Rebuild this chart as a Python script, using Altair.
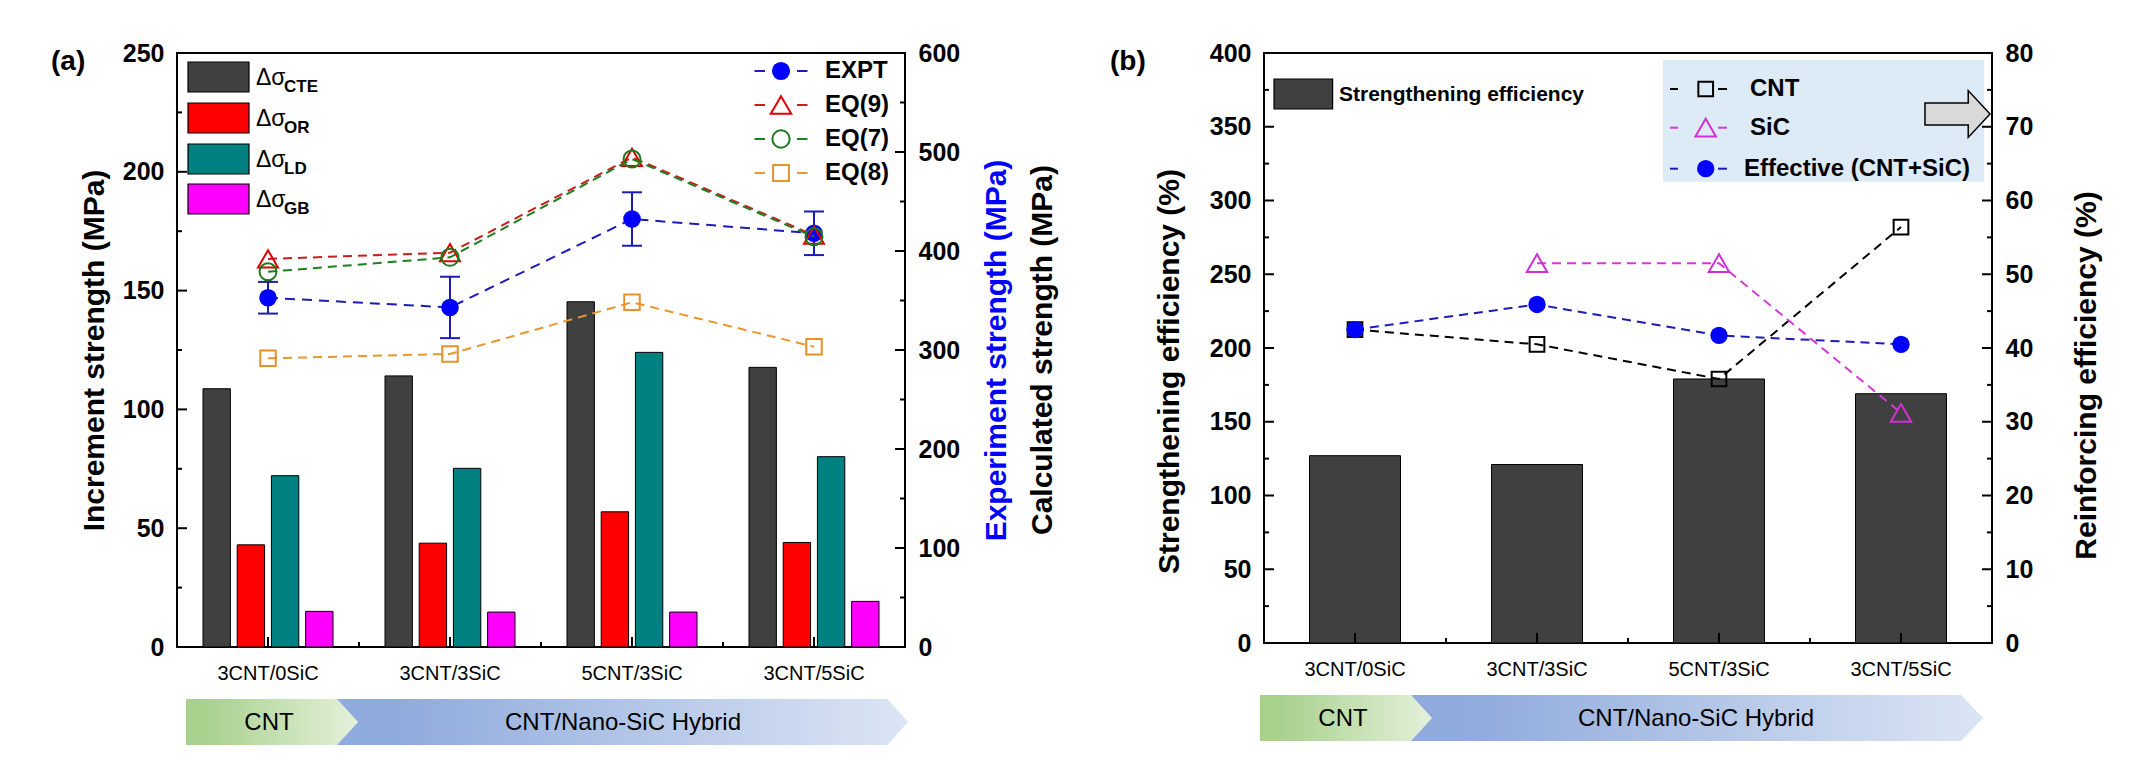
import altair as alt
import pandas as pd

# ---------------- data ----------------
cats = ["3CNT/0SiC", "3CNT/3SiC", "5CNT/3SiC", "3CNT/5SiC"]

# panel (a) bars: increment strength (MPa, left axis)
comps = ["CTE", "OR", "LD", "GB"]
comp_colors = ["#404040", "#FF0000", "#008080", "#FF00FF"]
d_cte = [108.7, 114.1, 145.3, 117.7]
d_or = [43.0, 43.7, 56.9, 44.0]
d_ld = [72.1, 75.2, 124.0, 80.1]
d_gb = [15.0, 14.7, 14.7, 19.2]

# panel (a) lines: strengths (MPa, right axis)
expt = [352.8, 343.0, 432.3, 417.9]
expt_err = [16, 31, 27, 22]
eq9 = [392.0, 398.3, 494.6, 416.0]
eq7 = [379.0, 393.6, 492.9, 414.4]
eq8 = [291.6, 296.0, 348.2, 303.3]

# panel (b)
strength_eff = [127, 121, 179, 169]          # left axis (%)
re_cnt = [42.5, 40.5, 35.8, 56.4]            # right axis (%)
re_sic_cats = ["3CNT/3SiC", "5CNT/3SiC", "3CNT/5SiC"]
re_sic = [51.5, 51.5, 31.2]
re_eff = [42.5, 45.9, 41.7, 40.5]

ticks_a_left = [0, 50, 100, 150, 200, 250]
minor_a_left = [25, 75, 125, 175, 225]
ticks_a_right = [0, 100, 200, 300, 400, 500, 600]
minor_a_right = [50, 150, 250, 350, 450, 550]
ticks_b_left = [0, 50, 100, 150, 200, 250, 300, 350, 400]
minor_b_left = [25, 75, 125, 175, 225, 275, 325, 375]
ticks_b_right = [0, 10, 20, 30, 40, 50, 60, 70, 80]
minor_b_right = [5, 15, 25, 35, 45, 55, 65, 75]

# ---------------- helpers ----------------
FONT = "Liberation Sans"
W = 728
HA = 594
HB = 590
ONE = pd.DataFrame({"k": [0]})

x_axis = alt.Axis(labelAngle=0, ticks=False, tickSize=0, domain=False, grid=False,
                  labelFont=FONT, labelFontSize=20, labelColor="black", labelPadding=16,
                  title=None)


def xenc(band_pos=None):
    kw = {}
    if band_pos is not None:
        kw["bandPosition"] = band_pos
    return alt.X("cat:N", sort=cats, scale=alt.Scale(domain=cats, paddingInner=0, paddingOuter=0),
                 axis=x_axis, title=None, **kw)


def yaxis(orient, values, title, tx, ty, color="black"):
    return alt.Axis(orient=orient, values=values, ticks=False, tickSize=0, domain=False, grid=False,
                    labelFont=FONT, labelFontSize=25, labelFontWeight="bold", labelColor="black",
                    labelPadding=13, title=title, titleFont=FONT, titleFontSize=30,
                    titleFontWeight="bold", titleColor=color, titleAngle=270, titleX=tx, titleY=ty,
                    titleAlign="center", titleBaseline="middle")


def make_y(domain, axis):
    def f(field, **kw):
        return alt.Y(field, type="quantitative", scale=alt.Scale(domain=domain, nice=False),
                     axis=axis, title=axis.title, **kw)
    return f


def vtext(txt, x, y, size, weight="normal", align="left", color="black", angle=None):
    kw = dict(text=txt, font=FONT, fontSize=size, fontWeight=weight, align=align,
              baseline="middle", color=color)
    if angle is not None:
        kw["angle"] = angle
    return alt.Chart(ONE).mark_text(**kw).encode(x=alt.value(x), y=alt.value(y))


def vrect(x1, x2, y1, y2, fill, stroke=None, sw=1.0):
    kw = dict(fill=fill)
    if stroke:
        kw.update(stroke=stroke, strokeWidth=sw)
    else:
        kw.update(strokeWidth=0)
    return alt.Chart(ONE).mark_rect(**kw).encode(x=alt.value(x1), x2=alt.value(x2),
                                                 y=alt.value(y1), y2=alt.value(y2))


def vrule(x1, x2, y, color, sw=2):
    return alt.Chart(ONE).mark_rule(color=color, strokeWidth=sw).encode(
        x=alt.value(x1), x2=alt.value(x2), y=alt.value(y), y2=alt.value(y))


def vpoint(x, y, shape, size, color, filled, sw=2.0):
    if filled:
        m = alt.Chart(ONE).mark_point(shape=shape, size=size, filled=True, fill=color,
                                      strokeWidth=0, opacity=1)
    else:
        m = alt.Chart(ONE).mark_point(shape=shape, size=size, filled=False, stroke=color,
                                      strokeWidth=sw, opacity=1)
    return m.encode(x=alt.value(x), y=alt.value(y))


def grad(c0, c1, mid=0.15):
    return alt.Gradient(gradient="linear",
                        stops=[alt.GradientStop(color=c0, offset=0),
                               alt.GradientStop(color=c0, offset=mid),
                               alt.GradientStop(color=c1, offset=1)],
                        x1=0, x2=1, y1=0, y2=0)


def banner(xc, yc, width, path, fill):
    return alt.Chart(ONE).mark_point(shape=path, size=width * width, filled=True, fill=fill,
                                     strokeWidth=0, opacity=1).encode(x=alt.value(xc), y=alt.value(yc))


def banner_paths(w_green, tip_green, w_blue, tip_blue, notch, h):
    hg = (h / 2) / (w_green / 2)
    tg = 1 - 2 * tip_green / w_green
    hb = (h / 2) / (w_blue / 2)
    tb = 1 - 2 * tip_blue / w_blue
    nb = -1 + 2 * notch / w_blue
    pg = f"M-1,{-hg:.4f}L{tg:.4f},{-hg:.4f}L1,0L{tg:.4f},{hg:.4f}L-1,{hg:.4f}Z"
    pb = (f"M-1,{-hb:.4f}L{tb:.4f},{-hb:.4f}L1,0L{tb:.4f},{hb:.4f}L-1,{hb:.4f}"
          f"L{nb:.4f},0Z")
    return pg, pb


GREEN = grad("#A9D18E", "#E4F1DB", 0.12)
BLUE = grad("#8FAADC", "#DCE5F4", 0.1)


def ytick_layers(yfn, major, minor, x_major, x_minor):
    return [
        alt.Chart(pd.DataFrame({"t": major})).mark_tick(orient="horizontal", size=10, thickness=2,
                                                        color="black", opacity=1).encode(x=alt.value(x_major), y=yfn("t")),
        alt.Chart(pd.DataFrame({"t": minor})).mark_tick(orient="horizontal", size=5, thickness=2,
                                                        color="black", opacity=1).encode(x=alt.value(x_minor), y=yfn("t")),
    ]


def xtick_layers(H):
    return [
        alt.Chart(pd.DataFrame({"cat": cats})).mark_tick(orient="vertical", size=10, thickness=2,
                                                         color="black", opacity=1).encode(x=xenc(), y=alt.value(H - 5)),
        alt.Chart(pd.DataFrame({"cat": cats[1:]})).mark_tick(orient="vertical", size=5, thickness=2,
                                                             color="black", opacity=1).encode(x=xenc(0), y=alt.value(H - 2.5)),
    ]


def series(values, cat_list, yfn, line_color, mark_color, shape, size, filled, dash=(9, 6)):
    df = pd.DataFrame({"cat": cat_list, "v": values})
    line = alt.Chart(df).mark_line(color=line_color, strokeWidth=2, strokeDash=list(dash)).encode(
        x=xenc(), y=yfn("v"))
    if filled:
        pts = alt.Chart(df).mark_point(shape=shape, size=size, filled=True, fill=mark_color,
                                       strokeWidth=0, opacity=1)
    else:
        pts = alt.Chart(df).mark_point(shape=shape, size=size, filled=False, stroke=mark_color,
                                       strokeWidth=2, opacity=1)
    return [line, pts.encode(x=xenc(), y=yfn("v"))]


# ================= panel (a) =================
ax_al = yaxis("left", ticks_a_left, "Increment strength (MPa)", -83, 297)
ax_ar = yaxis("right", ticks_a_right, "Experiment strength (MPa)", 91, 297, color="#0000FF")
ya_l = make_y([0, 250], ax_al)
ya_r = make_y([0, 600], ax_ar)

bar_rows = []
for c, a, b, d, e in zip(cats, d_cte, d_or, d_ld, d_gb):
    for comp, v in zip(comps, [a, b, d, e]):
        bar_rows.append({"cat": c, "comp": comp, "v": v})
bars_a = alt.Chart(pd.DataFrame(bar_rows)).mark_bar(stroke="black", strokeWidth=1).encode(
    x=xenc(),
    xOffset=alt.XOffset("comp:N", sort=comps,
                        scale=alt.Scale(domain=comps, paddingInner=0.2, paddingOuter=0.76)),
    y=ya_l("v"),
    color=alt.Color("comp:N", scale=alt.Scale(domain=comps, range=comp_colors), legend=None),
)

left_a = [bars_a] + ytick_layers(ya_l, ticks_a_left, minor_a_left, 5, 2.5) + xtick_layers(HA)

# bar legend
leg_tops = [9, 50, 91, 131]
for top, comp, col in zip(leg_tops, comps, comp_colors):
    left_a.append(vrect(11, 72, top, top + 30, col, stroke="black", sw=1.2))
    left_a.append(vtext("\u0394\u03c3", 79, top + 16, 23))
    left_a.append(vtext(comp, 107, top + 25, 17, weight="bold"))

# panel label, right black title
left_a.append(vtext("(a)", -126, 9, 28, weight="bold"))
left_a.append(vtext("Calculated strength (MPa)", 866, 297, 30, weight="bold", align="center", angle=270))

# banners
pg, pb = banner_paths(172, 21, 571, 20.5, 21, 46)
left_a.append(banner(95, 669, 172, pg, GREEN))
left_a.append(banner(445.5, 669, 571, pb, BLUE))
left_a.append(vtext("CNT", 92, 670, 24, align="center"))
left_a.append(vtext("CNT/Nano-SiC Hybrid", 446, 670, 24, align="center"))

# right-axis series
err_df = pd.DataFrame({"cat": cats, "lo": [v - e for v, e in zip(expt, expt_err)],
                       "hi": [v + e for v, e in zip(expt, expt_err)]})
EXPT_LINE = "#1C1CB8"
right_a = []
right_a.append(alt.Chart(pd.DataFrame({"cat": cats, "v": expt})).mark_line(
    color=EXPT_LINE, strokeWidth=2, strokeDash=[10, 7]).encode(x=xenc(), y=ya_r("v")))
right_a.append(alt.Chart(err_df).mark_rule(color=EXPT_LINE, strokeWidth=2).encode(
    x=xenc(), y=ya_r("lo"), y2=alt.Y2("hi")))
right_a.append(alt.Chart(err_df).mark_tick(orient="horizontal", size=20, thickness=2,
                                           color=EXPT_LINE, opacity=1).encode(x=xenc(), y=ya_r("lo")))
right_a.append(alt.Chart(err_df).mark_tick(orient="horizontal", size=20, thickness=2,
                                           color=EXPT_LINE, opacity=1).encode(x=xenc(), y=ya_r("hi")))
right_a.append(alt.Chart(pd.DataFrame({"cat": cats, "v": expt})).mark_point(
    shape="circle", size=310, filled=True, fill="#0000FF", strokeWidth=0, opacity=1).encode(
    x=xenc(), y=ya_r("v")))
right_a += series(eq9, cats, ya_r, "#C81E1E", "#E00000", "triangle-up", 400, False)
right_a += series(eq7, cats, ya_r, "#1E7F1E", "#1A7A1A", "circle", 289, False)
right_a += series(eq8, cats, ya_r, "#E8962E", "#E8902A", "square", 240, False)
right_a += ytick_layers(ya_r, ticks_a_right, minor_a_right, W - 5, W - 2.5)

# line legend (a)
leg_items_a = [
    ("EXPT", EXPT_LINE, "#0000FF", "circle", 330, True, 18),
    ("EQ(9)", "#C81E1E", "#E00000", "triangle-up", 420, False, 52),
    ("EQ(7)", "#1E7F1E", "#1A7A1A", "circle", 300, False, 86),
    ("EQ(8)", "#E8962E", "#E8902A", "square", 250, False, 120),
]
for lab, lc, mc, shp, sz, fl, yy in leg_items_a:
    left_a.append(vrule(577.5, 588, yy, lc))
    left_a.append(vrule(620, 630.5, yy, lc))
    left_a.append(vpoint(604, yy, shp, sz, mc, fl))
    left_a.append(vtext(lab, 648, yy, 24, weight="bold"))

panel_a = alt.layer(alt.layer(*left_a), alt.layer(*right_a)).resolve_scale(
    y="independent").properties(width=W, height=HA)

# ================= panel (b) =================
ax_bl = yaxis("left", ticks_b_left, "Strengthening efficiency (%)", -95, 318)
ax_br = yaxis("right", ticks_b_right, "Reinforcing efficiency (%)", 94, 322)
yb_l = make_y([0, 400], ax_bl)
yb_r = make_y([0, 80], ax_br)

bars_b = alt.Chart(pd.DataFrame({"cat": cats, "v": strength_eff})).mark_bar(
    color="#404040", stroke="black", strokeWidth=1, width=alt.RelativeBandSize(0.5)).encode(
    x=xenc(), y=yb_l("v"))

left_b = [bars_b] + ytick_layers(yb_l, ticks_b_left, minor_b_left, 5, 2.5) + xtick_layers(HB)
# invisible spacer so the panel sits a few pixels lower, as in the original
left_b.append(alt.Chart(ONE).mark_rule(strokeOpacity=0, strokeWidth=1).encode(
    x=alt.value(0), x2=alt.value(10), y=alt.value(-16.5), y2=alt.value(-16.5)))
left_b.append(vtext("(b)", -154, 9, 28, weight="bold"))
left_b.append(vrect(10, 68.6, 26, 56, "#404040", stroke="black", sw=1.2))
left_b.append(vtext("Strengthening efficiency", 75, 41.5, 21, weight="bold"))

# legend box + arrow
left_b.append(vrect(399, 720, 7, 128.7, "#DDEBF7"))
arrow_path = "M-1,-0.34L0.33,-0.34L0.33,-0.72L1,0L0.33,0.72L0.33,0.34L-1,0.34Z"
left_b.append(alt.Chart(ONE).mark_point(shape=arrow_path, size=65 * 65, filled=True, fill="#D9D9D9",
                                        stroke="black", strokeWidth=1.5, opacity=1).encode(
    x=alt.value(693.5), y=alt.value(61)))

leg_items_b = [
    ("CNT", "black", "black", "square", 216, False, 36, 486),
    ("SiC", "#D63AD6", "#D030D0", "triangle-up", 420, False, 74.7, 486),
    ("Effective (CNT+SiC)", EXPT_LINE, "#0000FF", "circle", 300, True, 115.7, 480),
]
for lab, lc, mc, shp, sz, fl, yy, tx in leg_items_b:
    left_b.append(vrule(406, 414, yy, lc))
    left_b.append(vrule(454, 463, yy, lc))
    left_b.append(vpoint(441.7, yy, shp, sz, mc, fl))
    left_b.append(vtext(lab, tx, yy, 24, weight="bold"))

pg2, pb2 = banner_paths(172, 21, 572, 22, 21, 46)
left_b.append(banner(82, 665, 172, pg2, GREEN))
left_b.append(banner(433, 665, 572, pb2, BLUE))
left_b.append(vtext("CNT", 79, 666, 24, align="center"))
left_b.append(vtext("CNT/Nano-SiC Hybrid", 432, 666, 24, align="center"))

right_b = []
right_b += series(re_cnt, cats, yb_r, "black", "black", "square", 216, False)
right_b += series(re_sic, re_sic_cats, yb_r, "#D63AD6", "#D030D0", "triangle-up", 420, False)
right_b += series(re_eff, cats, yb_r, EXPT_LINE, "#0000FF", "circle", 300, True)
right_b += ytick_layers(yb_r, ticks_b_right, minor_b_right, W - 5, W - 2.5)

panel_b = alt.layer(alt.layer(*left_b), alt.layer(*right_b)).resolve_scale(
    y="independent").properties(width=W, height=HB)

chart = alt.hconcat(panel_a, panel_b, spacing=50).properties(
    padding={"left": 42, "top": 27, "right": 10, "bottom": 10}
).configure(background="white").configure_view(stroke="black", strokeWidth=2)

chart.save("out.html", embed_options={"renderer": "svg", "actions": False})
